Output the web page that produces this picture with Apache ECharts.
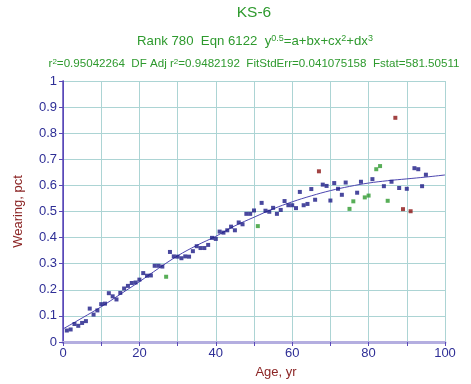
<!DOCTYPE html>
<html>
<head>
<meta charset="utf-8">
<script src="https://cdn.jsdelivr.net/npm/echarts@6/dist/echarts.min.js"></script>
<style>html,body{margin:0;padding:0;background:#fff}#c{width:471px;height:384px}</style>
</head>
<body>
<div id="c"></div>
<script>
// Blue (regular) points
const blueAge = [1,2,3,4,5,6,7,8,9,10,11,12,13,14,15,16,17,18,19,20,21,22,23,24,25,26,28,29,30,31,32,33,34,35,36,37,38,39,40,41,42,43,44,45,46,47,48,49,50,52,53,54,55,56,57,58,59,60,61,62,63,64,65,66,68,69,70,71,72,73,74,77,78,81,84,86,88,90,92,93,94,95];
const blueVal = [0.044,0.048,0.069,0.062,0.073,0.080,0.128,0.105,0.121,0.145,0.147,0.187,0.175,0.163,0.188,0.205,0.215,0.226,0.228,0.239,0.264,0.254,0.255,0.292,0.292,0.289,0.345,0.328,0.327,0.321,0.328,0.327,0.348,0.367,0.360,0.360,0.372,0.399,0.395,0.423,0.419,0.428,0.442,0.428,0.458,0.451,0.491,0.491,0.504,0.533,0.503,0.499,0.514,0.491,0.506,0.540,0.524,0.524,0.513,0.575,0.524,0.529,0.586,0.545,0.603,0.598,0.542,0.609,0.587,0.564,0.611,0.572,0.614,0.624,0.597,0.614,0.590,0.587,0.666,0.662,0.597,0.641];
// Green points
const greenAge = [27,51,75,76,79,80,82,83,85];
const greenVal = [0.250,0.444,0.510,0.539,0.554,0.561,0.662,0.674,0.541];
// Red points
const redAge = [67,87,89,91];
const redVal = [0.654,0.859,0.509,0.501];
// Fitted curve
const fitAge = [0,5,10,15,20,25,30,35,40,45,50,55,60,65,70,75,80,85,90,95,100];
const fitVal = [0.050,0.092,0.135,0.183,0.231,0.282,0.330,0.370,0.405,0.445,0.478,0.510,0.537,0.560,0.580,0.596,0.609,0.618,0.625,0.632,0.640];
const xTicks = [0,20,40,60,80,100];
const titleText = 'KS-6';
const subText = '{n|Rank 780  Eqn 6122  y}{s|0.5}{n|=a+bx+cx}{s|2}{n|+dx}{s|3}';
const statText = '{n|r}{s|2}{n|=0.95042264  DF Adj r}{s|2}{n|=0.9482192  FitStdErr=0.041075158  Fstat=581.50511}';

const zip = (a,b) => a.map((v,i)=>[v,b[i]]);
const G = '#2e9a2e';
const labelColor = '#2e2e96';
const axisColor = '#5a4ab8';
const gridColor = '#acd4d4';
const nameColor = '#8b2424';
const FF = '"Liberation Sans", Arial, sans-serif';

const chart = echarts.init(document.getElementById('c'), null, {renderer:'canvas'});
chart.setOption({
  animation:false,
  backgroundColor:'#fff',
  textStyle:{fontFamily:FF},
  graphic:[
    {type:'text', x:254, y:13, style:{text:titleText, align:'center', verticalAlign:'middle',
      font:'15.5px "Liberation Sans", Arial, sans-serif', fill:G}},
    {type:'text', x:255, y:40, style:{text:subText, align:'center', verticalAlign:'middle',
      rich:{
        n:{fontFamily:FF, fontSize:13.2, fill:G, lineHeight:16, verticalAlign:'bottom'},
        s:{fontFamily:FF, fontSize:9, fill:G, lineHeight:16, verticalAlign:'bottom', padding:[0,0,5,0]}}}},
    {type:'text', x:254, y:62, style:{text:statText, align:'center', verticalAlign:'middle',
      rich:{
        n:{fontFamily:FF, fontSize:11.6, fill:G, lineHeight:15, verticalAlign:'bottom'},
        s:{fontFamily:FF, fontSize:8, fill:G, lineHeight:15, verticalAlign:'bottom', padding:[0,0,4,0]}}}}
  ],
  grid:{left:63, top:81, width:382, height:264, containLabel:false},
  xAxis:[{
    type:'value', min:0, max:100, interval:10,
    name:'Age, yr', nameLocation:'middle', nameGap:24,
    nameTextStyle:{color:nameColor, fontSize:13, fontFamily:FF, padding:[0,0,0,44]},
    axisLine:{lineStyle:{color:axisColor, width:1}},
    axisTick:{show:true, length:4, lineStyle:{color:axisColor}},
    axisLabel:{color:labelColor, fontSize:13, fontFamily:FF, margin:5,
      formatter:v => xTicks.indexOf(v) >= 0 ? String(v) : ''},
    splitLine:{show:true, lineStyle:{color:gridColor, width:1}}
  },{
    type:'value', min:0, max:100, position:'top',
    axisLine:{show:true, lineStyle:{color:'#b4aee0', width:3}},
    axisTick:{show:false}, axisLabel:{show:false}, splitLine:{show:false}
  }],
  yAxis:[{
    type:'value', min:0, max:1, interval:0.1,
    name:'Wearing, pct', nameLocation:'middle', nameGap:38,
    nameTextStyle:{color:nameColor, fontSize:13, fontFamily:FF},
    axisLine:{show:true, lineStyle:{color:axisColor, width:1}},
    axisTick:{show:true, length:4, lineStyle:{color:axisColor}},
    axisLabel:{color:labelColor, fontSize:13, fontFamily:FF, margin:6,
      formatter:v => String(Math.round(v*10)/10)},
    splitLine:{show:true, lineStyle:{color:gridColor, width:1}}
  },{
    type:'value', min:0, max:1, position:'right',
    axisLine:{show:true, lineStyle:{color:axisColor, width:1.5}},
    axisTick:{show:false}, axisLabel:{show:false}, splitLine:{show:false}
  }],
  series:[
    {type:'line', data:zip(fitAge, fitVal), smooth:0.4, symbol:'none',
      lineStyle:{color:'#4c46b0', width:1}, z:2},
    {type:'scatter', data:zip(blueAge, blueVal), symbol:'rect', symbolSize:4,
      itemStyle:{color:'#1c1a86'}, z:3},
    {type:'scatter', data:zip(greenAge, greenVal), symbol:'rect', symbolSize:4,
      itemStyle:{color:'#2e9a2e'}, z:3},
    {type:'scatter', data:zip(redAge, redVal), symbol:'rect', symbolSize:4,
      itemStyle:{color:'#8b1414'}, z:3}
  ]
});
</script>
</body>
</html>
